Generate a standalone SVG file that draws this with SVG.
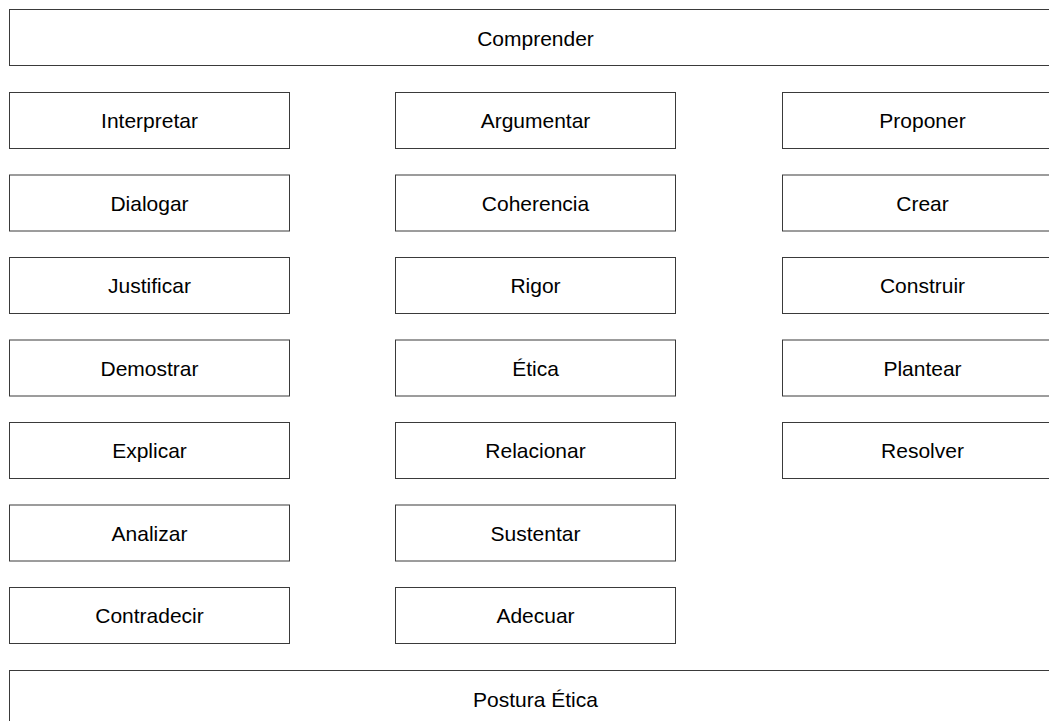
<svg xmlns="http://www.w3.org/2000/svg" width="1049" height="721" viewBox="0 0 1049 721">
<style>
.n rect{fill:#ffffff;stroke:#3a3a3a;stroke-width:1}
.n text{font-family:"Liberation Sans",Arial,sans-serif;font-size:21px;fill:#000000;text-anchor:middle}
</style>
<rect width="1049" height="721" fill="#ffffff"/>
<g id="connectors"></g>
<g id="comprender" class="n"><rect x="9.5" y="9.5" width="1052" height="56"/><text x="535.5" y="45.5">Comprender</text></g>
<g id="interpretar" class="n"><rect x="9.5" y="92.5" width="280" height="56"/><text x="149.5" y="128">Interpretar</text></g>
<g id="dialogar" class="n"><rect x="9.5" y="175" width="280" height="56"/><text x="149.5" y="210.5">Dialogar</text></g>
<g id="justificar" class="n"><rect x="9.5" y="257.5" width="280" height="56"/><text x="149.5" y="293">Justificar</text></g>
<g id="demostrar" class="n"><rect x="9.5" y="340" width="280" height="56"/><text x="149.5" y="375.5">Demostrar</text></g>
<g id="explicar" class="n"><rect x="9.5" y="422.5" width="280" height="56"/><text x="149.5" y="458">Explicar</text></g>
<g id="analizar" class="n"><rect x="9.5" y="505" width="280" height="56"/><text x="149.5" y="540.5">Analizar</text></g>
<g id="contradecir" class="n"><rect x="9.5" y="587.5" width="280" height="56"/><text x="149.5" y="623">Contradecir</text></g>
<g id="argumentar" class="n"><rect x="395.5" y="92.5" width="280" height="56"/><text x="535.5" y="128">Argumentar</text></g>
<g id="coherencia" class="n"><rect x="395.5" y="175" width="280" height="56"/><text x="535.5" y="210.5">Coherencia</text></g>
<g id="rigor" class="n"><rect x="395.5" y="257.5" width="280" height="56"/><text x="535.5" y="293">Rigor</text></g>
<g id="etica" class="n"><rect x="395.5" y="340" width="280" height="56"/><text x="535.5" y="375.5">Ética</text></g>
<g id="relacionar" class="n"><rect x="395.5" y="422.5" width="280" height="56"/><text x="535.5" y="458">Relacionar</text></g>
<g id="sustentar" class="n"><rect x="395.5" y="505" width="280" height="56"/><text x="535.5" y="540.5">Sustentar</text></g>
<g id="adecuar" class="n"><rect x="395.5" y="587.5" width="280" height="56"/><text x="535.5" y="623">Adecuar</text></g>
<g id="proponer" class="n"><rect x="782.5" y="92.5" width="280" height="56"/><text x="922.5" y="128">Proponer</text></g>
<g id="crear" class="n"><rect x="782.5" y="175" width="280" height="56"/><text x="922.5" y="210.5">Crear</text></g>
<g id="construir" class="n"><rect x="782.5" y="257.5" width="280" height="56"/><text x="922.5" y="293">Construir</text></g>
<g id="plantear" class="n"><rect x="782.5" y="340" width="280" height="56"/><text x="922.5" y="375.5">Plantear</text></g>
<g id="resolver" class="n"><rect x="782.5" y="422.5" width="280" height="56"/><text x="922.5" y="458">Resolver</text></g>
<g id="postura-etica" class="n"><rect x="9.5" y="670.5" width="1052" height="56"/><text x="535.5" y="706.5">Postura Ética</text></g>
</svg>
